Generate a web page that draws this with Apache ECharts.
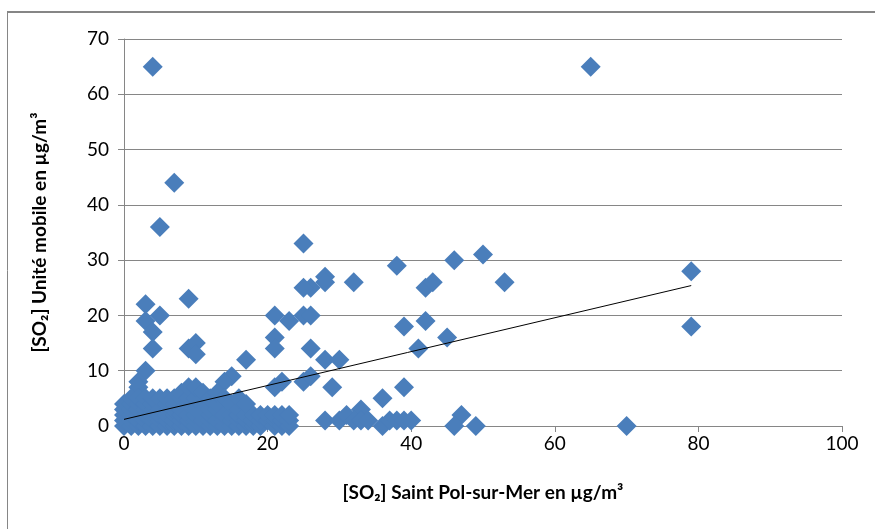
<!DOCTYPE html>
<html>
<head>
<meta charset="utf-8">
<script src="https://cdn.jsdelivr.net/npm/echarts@6/dist/echarts.min.js"></script>
<style>html,body{margin:0;padding:0;background:#fff}#c{width:875px;height:529px}</style>
</head>
<body>
<div id="c"></div>
<script>
// Saint Pol-sur-Mer SO2 (x) vs mobile unit SO2 (y), µg/m3
const xVals = [
  4,65,7,5,25,3,9,5,3,4,4,9,10,10,3,2,2,
  21,23,25,26,21,21,26,17,15,14,22,21,25,26,
  28,28,26,25,32,38,46,50,53,42,43,39,42,45,41,28,30,29,39,36,33,47,46,49,70,79,79,
  28,30,31,32,33,34,36,37,38,39,40,
  0,0,0,0,0, 1,1,1,1,1,1, 2,2,2,2,2,2, 3,3,3,3,3,3, 4,4,4,4,4,4,
  5,5,5,5,5, 6,6,6,6,6, 7,7,7,7,7,7, 8,8,8,8,8,8, 9,9,9,9,9,9,
  10,10,10,10,10,10, 11,11,11,11,11, 12,12,12,12,12, 13,13,13,13,13,
  14,14,14,14, 15,15,15,15, 16,16,16,16,16, 17,17,17,17,
  18,18,18, 19,19,19, 20,20, 21,21,21, 22,22,22, 23,23,23
];
const yVals = [
  65,65,44,36,33,22,23,20,19,17,14,14,15,13,10,8,7,
  20,19,20,20,16,14,14,12,9,8,8,7,8,9,
  27,26,25,25,26,29,30,31,26,25,26,18,19,16,14,12,12,7,7,5,3,2,0,0,0,28,18,
  1,1,2,1,1,1,0,1,1,1,1,
  0,1,2,3,4, 0,1,2,3,4,5, 0,1,2,3,4,5, 0,1,2,3,4,5, 0,1,2,3,4,5,
  0,1,2,3,5, 0,1,2,4,5, 0,1,2,3,4,5, 0,1,2,3,5,6, 0,1,2,4,5,7,
  0,1,2,3,5,7, 0,1,2,4,6, 0,1,2,3,5, 0,1,3,4,6,
  0,1,2,5, 0,1,2,4, 0,1,2,3,5, 0,1,2,4,
  0,1,2, 0,1,2, 1,2, 0,1,2, 0,1,2, 0,1,2
];
// linear trend line end points
const trendX = [0, 79];
const trendY = [1.2, 25.4];
const xTicks = [0, 20, 40, 60, 80, 100];
const yTicks = [0, 10, 20, 30, 40, 50, 60, 70];
const xTitle = '[SO₂] Saint Pol-sur-Mer en µg/m³';
const yTitle = '[SO₂] Unité mobile en µg/m³';

const points = xVals.map((x, i) => [x, yVals[i]]);
const trend = trendX.map((x, i) => [x, trendY[i]]);
const font = 'Lato, "Open Sans", sans-serif';
const gray = '#868686';

const chart = echarts.init(document.getElementById('c'), null, {renderer: 'canvas'});
chart.setOption({
  animation: false,
  backgroundColor: '#fff',
  grid: {left: 124, right: 33, top: 39, bottom: 103, containLabel: false},
  xAxis: {
    type: 'value', min: xTicks[0], max: xTicks[xTicks.length - 1], interval: 20,
    axisLine: {show: true, lineStyle: {color: gray, width: 1}},
    axisTick: {show: true, inside: false, length: 6, lineStyle: {color: gray}},
    splitLine: {show: false},
    axisLabel: {color: '#000', fontSize: 19, fontFamily: font, margin: 8},
    name: xTitle, nameLocation: 'middle', nameGap: 57,
    nameTextStyle: {color: '#000', fontSize: 19, fontWeight: 'bold', fontFamily: font}
  },
  yAxis: {
    type: 'value', min: yTicks[0], max: yTicks[yTicks.length - 1], interval: 10,
    axisLine: {show: true, lineStyle: {color: gray, width: 1}},
    axisTick: {show: true, inside: false, length: 6, lineStyle: {color: gray}},
    splitLine: {show: true, lineStyle: {color: gray, width: 1}},
    axisLabel: {color: '#000', fontSize: 19, fontFamily: font, margin: 15},
    name: yTitle, nameLocation: 'middle', nameGap: 75, nameRotate: 90,
    nameTextStyle: {color: '#000', fontSize: 19, fontWeight: 'bold', fontFamily: font}
  },
  graphic: [
    {type: 'line', shape: {x1: 7, y1: 12, x2: 875, y2: 12}, style: {stroke: gray, lineWidth: 2}, silent: true},
    {type: 'line', shape: {x1: 7.5, y1: 12, x2: 7.5, y2: 529}, style: {stroke: gray, lineWidth: 1}, silent: true}
  ],
  series: [
    {
      type: 'scatter', data: points, symbol: 'diamond', symbolSize: [20, 20],
      itemStyle: {color: '#4A7EBB', opacity: 1}, z: 2
    },
    {
      type: 'line', data: trend, showSymbol: false, symbol: 'none',
      lineStyle: {color: '#000', width: 1}, z: 3, silent: true
    }
  ]
});
</script>
</body>
</html>
